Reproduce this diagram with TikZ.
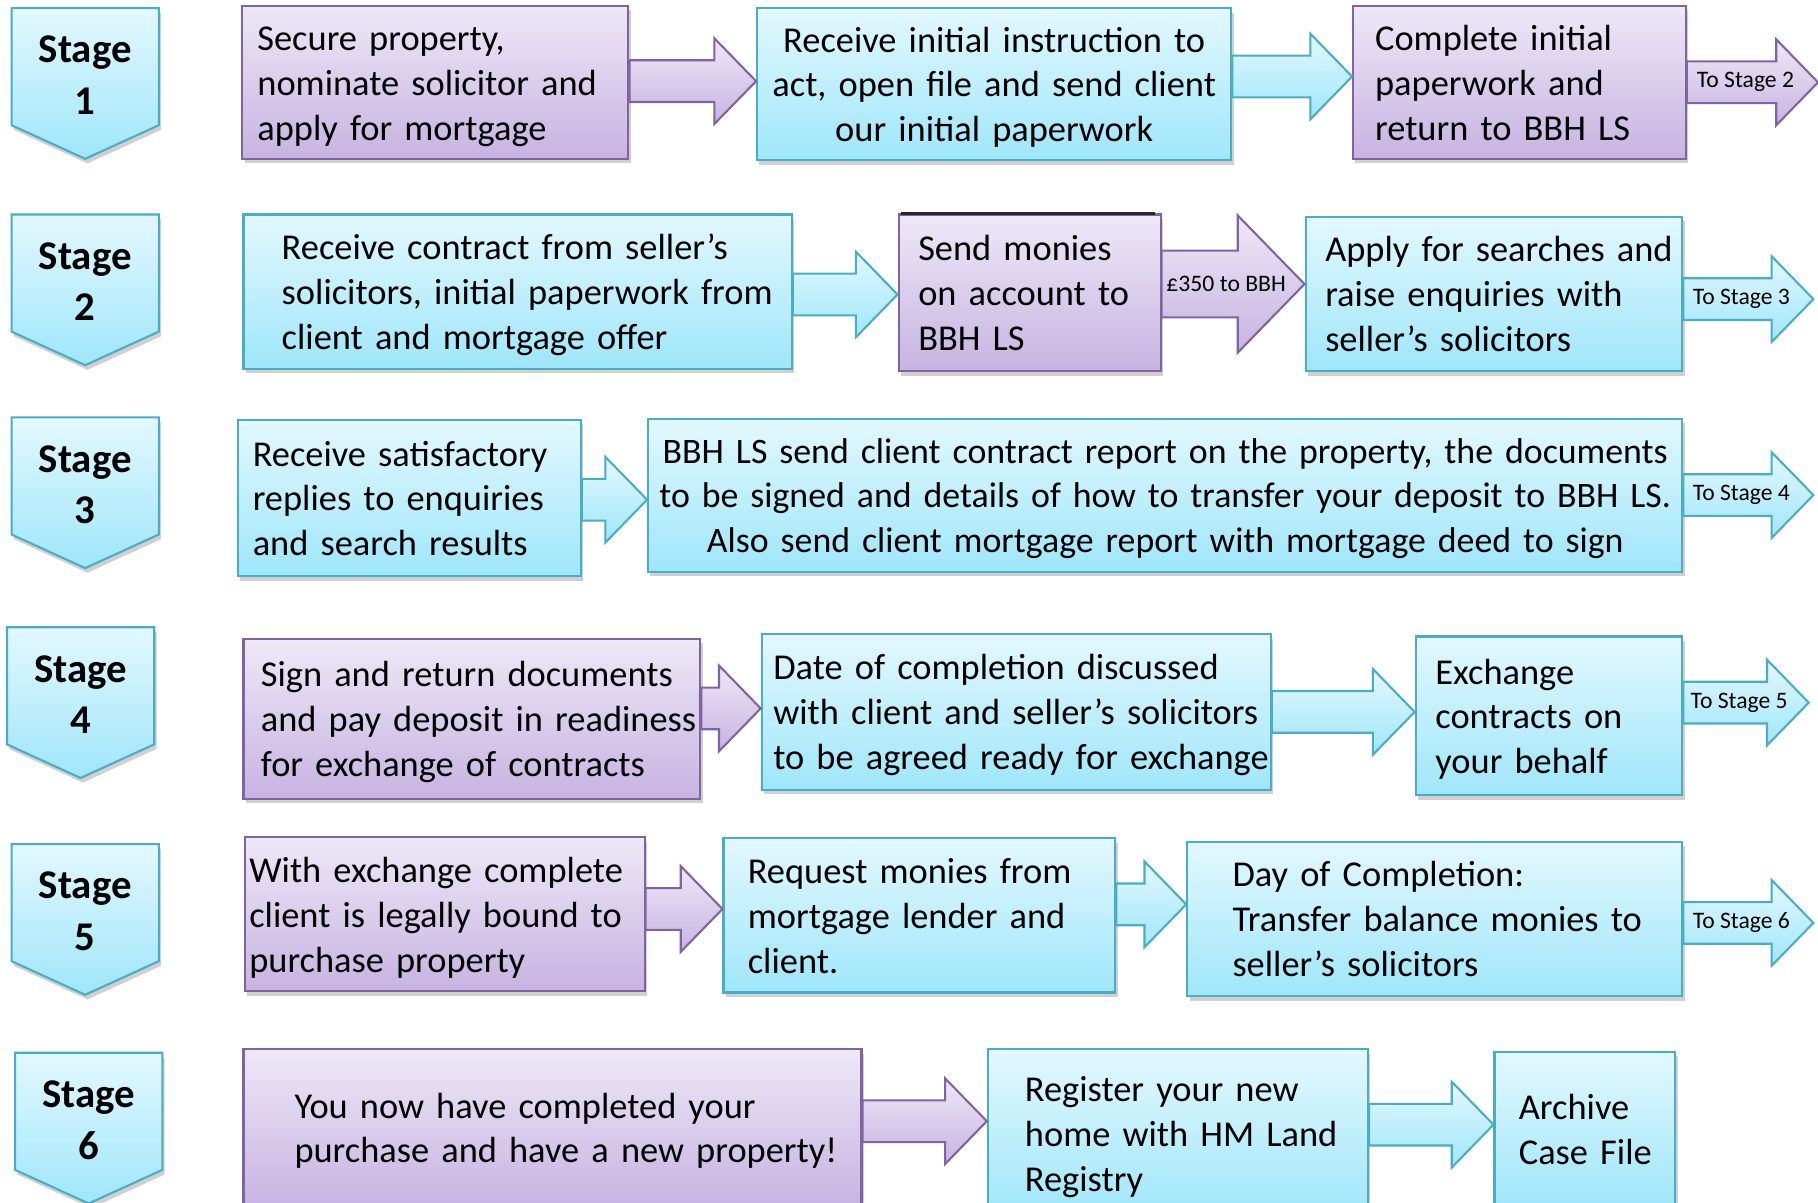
\documentclass[tikz,border=0pt]{standalone}
\usepackage{fontspec}
\setmainfont{Carlito}
\usetikzlibrary{calc,shadows}

\definecolor{purpletop}{HTML}{EEE8F7}
\definecolor{purplebot}{HTML}{C7B3E1}
\definecolor{purpleline}{HTML}{8064A2}
\definecolor{cyantop}{HTML}{E3F8FE}
\definecolor{cyanbot}{HTML}{9FE6FA}
\definecolor{cyanline}{HTML}{4BACC6}

\tikzset{
  purplefill/.style={draw=purpleline, line width=0.9pt, top color=purpletop, bottom color=purplebot},
  cyanfill/.style={draw=cyanline, line width=0.9pt, top color=cyantop, bottom color=cyanbot},
  boxshadow/.style={drop shadow={shadow xshift=1pt, shadow yshift=-2pt, opacity=0.3, fill=black!60}},
  boxtext/.style={rectangle, inner ysep=0pt, align=left, font={\fontsize{15.7}{19.35}\selectfont}},
  purplebox/.style={purplefill, boxshadow, boxtext},
  cyanbox/.style={cyanfill, boxshadow, boxtext},
  stagetext/.style={font={\bfseries\fontsize{17.6}{22.3}\selectfont}, align=center, inner sep=0pt},
  arrowlabel/.style={font={\fontsize{10.2}{12}\selectfont}, inner sep=0pt, xshift=-3pt},
}

% box: style, name, x1, y1, x2, y2, text indent, column, text
\newcommand{\flowbox}[9]{%
  \pgfmathsetmacro\bw{(#5-#3)*0.5}%
  \pgfmathsetmacro\bh{(#6-#4)*0.5}%
  \pgfmathsetmacro\bt{(#5-#3-2*#7)*0.5}%
  \pgfmathsetmacro\bp{#7*0.5}%
  \node[#1, minimum width=\bw pt, minimum height=\bh pt, text width=\bt pt, inner xsep=\bp pt]
    (#2) at ({(#3+#5)/2},{(#4+#6)/2})
    {\raisebox{-1.7pt}[\height][\depth]{\begin{tabular}{@{}#8@{}}#9\end{tabular}}};}

% block arrow: style, from, to, y, size, name
\newcommand{\flowarrow}[6]{%
  \pgfmathsetmacro\ash{18*#5}%
  \pgfmathsetmacro\ahh{37*#5}%
  \pgfmathsetmacro\ahl{36*#5}%
  \coordinate (#6y) at (0,#4);
  \coordinate (#6s) at (#2.east |- #6y);
  \coordinate (#6t) at (#3 |- #6y);
  \path[#1] ($(#6s)+(0,-\ash)$) -- ($(#6t)+(-\ahl,-\ash)$) -- ($(#6t)+(-\ahl,-\ahh)$) -- (#6t)
    -- ($(#6t)+(-\ahl,\ahh)$) -- ($(#6t)+(-\ahl,\ash)$) -- ($(#6s)+(0,\ash)$) -- cycle;}

% stage marker: name, x, top, number
\newcommand{\stagemark}[4]{%
  \path[cyanfill, boxshadow] (#2,#3) -- ++(127,0) -- ++(0,101) -- ++(-63.5,29) -- ++(-63.5,-29) -- cycle;
  \node[stagetext] (#1) at (#2+63.5,#3+58) {Stage\\#4};}

\begin{document}
\begin{tikzpicture}[x=0.5pt, y=-0.5pt]
  \path[use as bounding box, fill=white] (0,0) rectangle (1568,1037);
  % Define nodes
  \stagemark{st1}{10}{7}{1}
  \stagemark{st2}{10}{185}{2}
  \stagemark{st3}{10}{360}{3}
  \stagemark{st4}{6}{541}{4}
  \stagemark{st5}{10}{728}{5}
  \stagemark{st6}{13}{908}{6}

  \flowbox{purplebox}{b1a}{209}{5}{542}{137}{13}{l}{Secure property,\\nominate solicitor and\\apply for mortgage}
  \flowbox{cyanbox, align=center}{b1b}{653}{7}{1062}{138}{0}{c}{Receive initial instruction to\\act, open file and send client\\our initial paperwork}
  \flowbox{purplebox}{b1c}{1167}{5}{1454}{137}{19}{l}{Complete initial\\paperwork and\\return to BBH LS}

  \flowbox{cyanbox}{b2a}{210}{185}{683}{318}{33}{l}{Receive contract from seller’s\\solicitors, initial paperwork from\\client and mortgage offer}
  \flowbox{purplebox}{b2b}{775}{185}{1001}{320}{17}{l}{Send monies\\on account to\\BBH LS}
  \flowbox{cyanbox}{b2c}{1126}{187}{1451}{320}{17}{l}{Apply for searches and\\raise enquiries with\\seller’s solicitors}
  \draw[black!85, line width=1.2pt] ([xshift=1.5pt]b2b.north west) -- ([xshift=-3pt]b2b.north east);

  \flowbox{cyanbox}{b3a}{205}{362}{501}{497}{13}{l}{Receive satisfactory\\replies to enquiries\\and search results}
  \flowbox{cyanbox, align=center, font={\fontsize{15.45}{19.35}\selectfont}}{b3b}{559}{361}{1451}{493}{0}{c}{BBH LS send client contract report on the property, the documents\\to be signed and details of how to transfer your deposit to BBH LS.\\Also send client mortgage report with mortgage deed to sign}

  \flowbox{purplebox}{b4a}{210}{551}{604}{689}{15}{l}{Sign and return documents\\and pay deposit in readiness\\for exchange of contracts}
  \flowbox{cyanbox}{b4b}{657}{547}{1096}{681}{10}{l}{Date of completion discussed\\with client and seller’s solicitors\\to be agreed ready for exchange}
  \flowbox{cyanbox}{b4c}{1221}{549}{1451}{686}{17}{l}{Exchange\\contracts on\\your behalf}

  \flowbox{purplebox}{b5a}{211}{722}{556}{855}{4}{l}{With exchange complete\\client is legally bound to\\purchase property}
  \flowbox{cyanbox}{b5b}{624}{723}{962}{856}{21}{l}{Request monies from\\mortgage lender and\\client.}
  \flowbox{cyanbox}{b5c}{1024}{726}{1451}{859}{39}{l}{Day of Completion:\\Transfer balance monies to\\seller’s solicitors}

  \flowbox{purplebox}{b6a}{210}{905}{743}{1040}{44}{l}{You now have completed your\\purchase and have a new property!}
  \flowbox{cyanbox}{b6b}{852}{905}{1180}{1050}{32}{l}{Register your new\\home with HM Land\\Registry}
  \flowbox{cyanbox}{b6c}{1289}{907}{1445}{1040}{21}{l}{Archive\\Case File}

  \coordinate (to2) at (1568,71);
  \coordinate (to3) at (1564,258);
  \coordinate (to4) at (1564,427);
  \coordinate (to5) at (1560,606);
  \coordinate (to6) at (1564,796);

  % Connect nodes
  \flowarrow{purplefill}{b1a}{b1b.west}{70}{1}{a11}
  \flowarrow{cyanfill}{b1b}{b1c.west}{66}{1}{a12}
  \flowarrow{purplefill}{b1c}{to2}{71}{1}{a13}
  \flowarrow{cyanfill}{b2a}{b2b.west}{254}{1}{a21}
  \flowarrow{purplefill}{b2b}{b2c.west}{245}{1.6}{a22}
  \flowarrow{cyanfill}{b2c}{to3}{258}{1}{a23}
  \flowarrow{cyanfill}{b3a}{b3b.west}{431}{1}{a31}
  \flowarrow{cyanfill}{b3b}{to4}{427}{1}{a32}
  \flowarrow{purplefill}{b4a}{b4b.west}{611}{1}{a41}
  \flowarrow{cyanfill}{b4b}{b4c.west}{614}{1}{a42}
  \flowarrow{cyanfill}{b4c}{to5}{606}{1}{a43}
  \flowarrow{purplefill}{b5a}{b5b.west}{784}{1}{a51}
  \flowarrow{cyanfill}{b5b}{b5c.west}{780}{1}{a52}
  \flowarrow{cyanfill}{b5c}{to6}{796}{1}{a53}
  \flowarrow{purplefill}{b6a}{b6b.west}{967}{1}{a61}
  \flowarrow{cyanfill}{b6b}{b6c.west}{970}{1}{a62}

  \node[arrowlabel] (l13) at ($(a13s)!0.5!(a13t)$) {To Stage 2};
  \node[arrowlabel] (l22) at ($(a22s)!0.5!(a22t)$) {£350 to BBH};
  \node[arrowlabel] (l23) at ($(a23s)!0.5!(a23t)$) {To Stage 3};
  \node[arrowlabel] (l32) at ($(a32s)!0.5!(a32t)$) {To Stage 4};
  \node[arrowlabel] (l43) at ($(a43s)!0.5!(a43t)$) {To Stage 5};
  \node[arrowlabel] (l53) at ($(a53s)!0.5!(a53t)$) {To Stage 6};
\end{tikzpicture}
\end{document}
